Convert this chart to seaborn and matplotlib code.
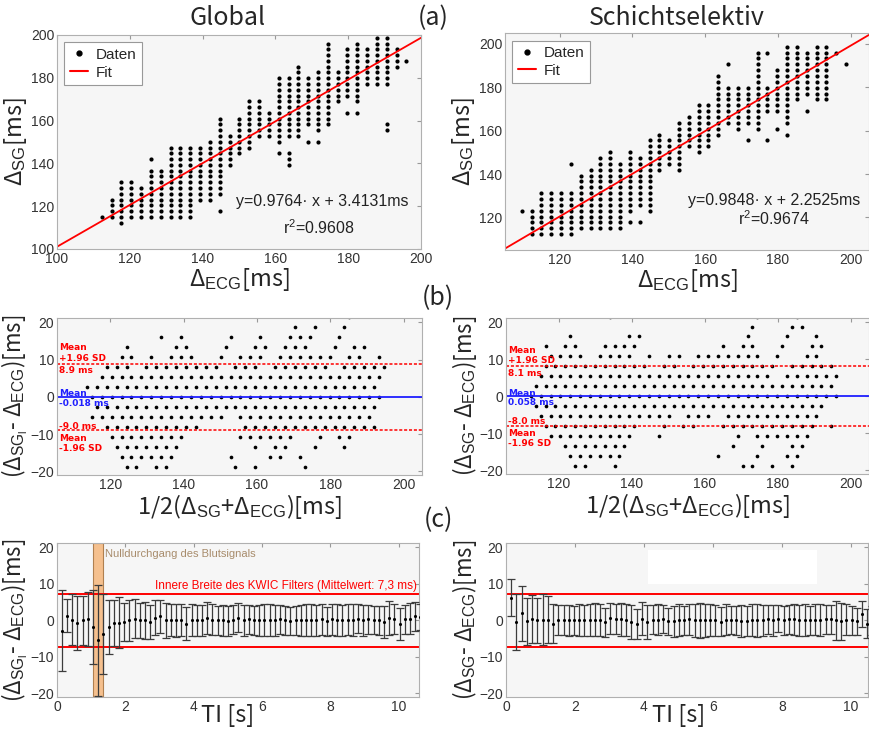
import matplotlib
matplotlib.use("Agg")
import matplotlib.pyplot as plt
from matplotlib.lines import Line2D
from matplotlib.patches import Rectangle
import numpy as np
import pandas as pd
import seaborn as sns

# delays are sampled on a grid: grid_t0 + grid_dt * index  [ms]
grid_t0 = 109.6
grid_dt = 2.7

# (a) Global: ECG column index -> runs (lo, hi) of SG indices, read column by column
glob_cols = [
    (1, [(2, 2)]), (2, [(2, 5)]), (3, [(1, 8)]), (4, [(2, 8)]), (5, [(2, 7)]),
    (6, [(2, 10), (12, 12)]), (7, [(2, 10)]), (8, [(2, 14)]), (9, [(2, 14)]),
    (10, [(2, 14)]), (11, [(5, 14)]), (12, [(5, 15)]), (13, [(3, 3), (6, 19)]),
    (14, [(11, 16)]), (15, [(13, 19)]), (16, [(14, 22)]), (17, [(16, 22)]),
    (18, [(16, 20)]), (19, [(13, 13), (15, 26)]), (20, [(11, 13), (16, 26)]),
    (21, [(16, 28)]), (22, [(15, 15), (18, 26)]), (23, [(15, 15), (17, 27)]),
    (24, [(18, 32)]), (25, [(22, 27)]), (26, [(20, 20), (23, 31)]),
    (27, [(20, 20), (22, 32)]), (28, [(25, 31)]), (29, [(25, 33)]),
    (30, [(17, 18), (25, 33)]), (31, [(28, 31)]), (32, [(29, 29)]),
]
# (a) Schichtselektiv
schi_cols = [
    (0, [(5, 5)]), (1, [(1, 5)]), (2, [(1, 8)]), (3, [(1, 8)]), (4, [(1, 8)]),
    (5, [(1, 8), (13, 13)]), (6, [(2, 11)]), (7, [(2, 12)]), (8, [(2, 14)]),
    (9, [(2, 15)]), (10, [(2, 13)]), (11, [(3, 3), (5, 15)]), (12, [(3, 3), (6, 14)]),
    (13, [(5, 17)]), (14, [(12, 18)]), (15, [(13, 17)]), (16, [(12, 20)]),
    (17, [(16, 21)]), (18, [(15, 23)]), (19, [(16, 23)]), (20, [(18, 28)]),
    (21, [(20, 26), (30, 30)]), (22, [(19, 26)]), (23, [(17, 17), (20, 26)]),
    (24, [(19, 32)]), (25, [(17, 17), (22, 26), (32, 32)]), (26, [(19, 19), (22, 29)]),
    (27, [(18, 18), (20, 33)]), (28, [(24, 33)]), (29, [(22, 22), (25, 32)]),
    (30, [(24, 33)]), (31, [(24, 33)]), (32, [(32, 32)]), (33, [(30, 30)]),
]

glob_fit = (0.9764, 3.4131)
glob_r2 = 0.9608
schi_fit = (0.9848, 2.2525)
schi_r2 = 0.9674

# (b) Bland-Altman lines: mean, mean+1.96SD, mean-1.96SD
glob_ba = (-0.018, 8.9, -9.0)
schi_ba = (0.058, 8.1, -8.0)

# (c) difference vs inversion time
ti = [0.15, 0.30, 0.45, 0.60, 0.75, 0.91, 1.06, 1.21, 1.36, 1.51,
      1.67, 1.82, 1.97, 2.12, 2.27, 2.43, 2.58, 2.73, 2.88, 3.03,
      3.19, 3.34, 3.49, 3.64, 3.79, 3.95, 4.10, 4.25, 4.40, 4.55,
      4.71, 4.86, 5.01, 5.16, 5.31, 5.47, 5.62, 5.77, 5.92, 6.07,
      6.23, 6.38, 6.53, 6.68, 6.83, 6.99, 7.14, 7.29, 7.44, 7.59,
      7.75, 7.90, 8.05, 8.20, 8.35, 8.51, 8.66, 8.81, 8.96, 9.11,
      9.27, 9.42, 9.57, 9.72, 9.87, 10.03, 10.18, 10.33, 10.48, 10.63]
glob_mean = [-2.8, 1.3, 0.2, -0.8, 0.0, 0.5, -1.8, -5.5, -3.8, -1.8,
             -0.7, -0.6, -0.5, 0.0, 0.5, 0.0, 0.0, -0.4, 0.7, 1.1,
             0.0, 0.2, 0.0, 0.2, -0.9, 0.2, 0.0, 0.0, 0.6, 0.2,
             0.0, 0.0, -0.2, 0.2, 0.7, 0.0, 0.3, 0.0, 0.0, 0.2,
             0.0, 0.0, 0.3, 0.0, -0.2, 0.0, 0.0, 0.0, 0.2, 0.0,
             0.3, -0.3, 0.3, 0.0, 0.0, 0.2, 0.0, 0.5, 0.0, 0.3,
             0.0, 0.0, -0.5, 0.6, 0.4, -0.9, 0.3, 0.5, 1.1, 0.9]
glob_sd = [11.2, 4.6, 7.0, 7.4, 6.8, 7.4, 10.2, 15.2, 11.0, 7.3,
           6.2, 7.0, 5.2, 5.6, 5.4, 4.8, 5.0, 4.6, 4.8, 4.6,
           4.8, 4.4, 4.6, 4.4, 4.6, 4.4, 4.2, 4.2, 4.4, 4.2,
           4.0, 4.2, 4.2, 4.0, 4.0, 4.2, 4.0, 4.0, 4.2, 4.4,
           4.4, 4.2, 4.0, 4.0, 3.8, 4.0, 4.2, 4.4, 4.4, 4.2,
           4.2, 4.0, 4.2, 4.4, 4.2, 4.2, 4.4, 4.0, 4.2, 4.0,
           3.8, 4.0, 4.4, 4.6, 4.2, 4.4, 4.0, 4.2, 4.0, 3.6]
schi_mean = [6.2, -0.5, 1.9, -0.3, 0.4, 0.0, 0.2, 0.2, -0.9, 0.0,
             0.0, 0.0, 0.0, 0.2, 0.0, 0.0, 0.2, 0.0, -0.5, 0.6,
             0.4, 0.3, 0.0, -0.4, -1.0, 0.5, -0.5, 0.2, 0.2, 0.3,
             -0.3, -0.3, 0.0, 0.0, 0.3, 0.0, 0.0, 0.0, 0.2, 0.0,
             -0.4, 0.2, 0.0, 0.0, -0.2, -0.2, 0.0, 0.0, 0.0, 0.3,
             0.0, 0.5, 0.0, 0.3, 0.3, 0.0, 0.0, 0.0, 0.2, 0.0,
             0.3, 0.3, 0.0, -0.3, 0.2, 0.0, -0.3, 1.8, -0.9, 0.0]
schi_sd = [5.0, 7.7, 7.6, 6.4, 6.6, 6.2, 6.9, 6.4, 5.3, 4.1,
           4.1, 4.2, 4.0, 4.4, 4.2, 4.4, 4.6, 4.4, 4.0, 4.2,
           4.1, 4.5, 4.4, 4.6, 4.2, 4.4, 4.6, 4.0, 4.2, 3.8,
           3.8, 4.2, 4.4, 4.0, 4.2, 4.6, 4.8, 4.6, 4.4, 4.2,
           4.0, 4.2, 3.8, 4.0, 4.4, 4.2, 4.4, 4.6, 4.2, 4.0,
           4.2, 3.8, 4.0, 4.0, 4.2, 4.2, 4.4, 4.0, 4.2, 4.4,
           4.0, 4.0, 5.4, 5.0, 4.2, 4.0, 3.8, 3.5, 4.0, 4.0]
kwic_width = 7.3
null_crossing = (1.05, 1.36)

# ---- style ------------------------------------------------------------
sns.set_style("white")
plt.rcParams["font.family"] = ["Liberation Sans", "DejaVu Sans"]
plt.rcParams["mathtext.fontset"] = "custom"
plt.rcParams["mathtext.rm"] = "Liberation Sans"
plt.rcParams["mathtext.it"] = "Liberation Sans:italic"
plt.rcParams["mathtext.bf"] = "Liberation Sans:bold"
BIG = ["Noto Sans CJK JP", "DejaVu Sans"]
LBL = 17
BG = "#f6f6f6"


def to_frame(cols):
    ecg, sg = [], []
    for k, runs in cols:
        for lo, hi in runs:
            for m in range(lo, hi + 1):
                ecg.append(round(grid_t0 + grid_dt * k, 2))
                sg.append(round(grid_t0 + grid_dt * m, 2))
    df = pd.DataFrame({"ecg": ecg, "sg": sg})
    df["mean"] = (df["ecg"] + df["sg"]) / 2
    df["diff"] = df["sg"] - df["ecg"]
    return df


def frame_axes(ax):
    ax.set_facecolor(BG)
    for s in ax.spines.values():
        s.set_color("#b0b0b0")
        s.set_linewidth(0.8)
    ax.tick_params(direction="in", length=3, color="#999999", labelcolor="#333333",
                   labelsize=10, top=True, right=True, pad=2)


def scatter_panel(ax, df, fit, r2, lim, ticks, eq_xy, r2_xy):
    frame_axes(ax)
    sns.scatterplot(data=df, x="ecg", y="sg", ax=ax, color="k", s=9,
                    linewidth=0, legend=False)
    xs = np.array(lim, dtype=float)
    sns.lineplot(x=xs, y=fit[0] * xs + fit[1], ax=ax, color="red", lw=1.3)
    ax.set_xlim(lim)
    ax.set_ylim(lim)
    ax.set_xticks(ticks)
    ax.set_yticks(ticks)
    ax.set_xlabel("Δ$_{\\mathrm{ECG}}$[ms]", fontsize=LBL, family=BIG, labelpad=0)
    ax.set_ylabel("Δ$_{\\mathrm{SG}}$[ms]", fontsize=LBL, family=BIG, labelpad=1)
    handles = [Line2D([], [], marker="o", ls="", color="k", ms=3.5, label="Daten"),
               Line2D([], [], color="red", lw=1.5, label="Fit")]
    leg = ax.legend(handles=handles, loc="upper left", fancybox=False,
                    edgecolor="#999999", framealpha=1, fontsize=11,
                    handlelength=1.2, handletextpad=0.5, borderpad=0.35,
                    labelspacing=0.25, borderaxespad=0.0,
                    bbox_to_anchor=(0.02, 0.965))
    leg.get_frame().set_linewidth(0.8)
    ax.text(*eq_xy, f"y={fit[0]:.4f}· x + {fit[1]:.4f}ms", transform=ax.transAxes,
            ha="center", va="center", fontsize=11.5, color="#222222")
    ax.text(*r2_xy, f"r$^2$={r2:.4f}", transform=ax.transAxes,
            ha="center", va="center", fontsize=11.5, color="#222222")


def ba_panel(ax, df, stats, ylab, labels):
    frame_axes(ax)
    sns.scatterplot(data=df, x="mean", y="diff", ax=ax, color="k", s=7,
                    linewidth=0, legend=False)
    mean, up, lo = stats
    ax.axhline(up, color="red", ls=(0, (2, 1.2)), lw=1.1)
    ax.axhline(lo, color="red", ls=(0, (2, 1.2)), lw=1.1)
    ax.axhline(mean, color="#1f1fff", lw=1.3)
    ax.set_xlim(105.5, 205)
    ax.set_ylim(-21, 21.2)
    ax.set_xticks([120, 140, 160, 180, 200])
    ax.set_yticks([-20, -10, 0, 10, 20])
    ax.set_xlabel("1/2(Δ$_{\\mathrm{SG}}$+Δ$_{\\mathrm{ECG}}$)[ms]", fontsize=LBL,
                  family=BIG, labelpad=0.5)
    ax.set_ylabel(ylab, fontsize=LBL - 1, family=BIG, labelpad=0)
    for y, txt, col in labels:
        ax.text(106, y, txt, color=col, fontsize=6.5, fontweight="bold",
                family="DejaVu Sans", va="center", ha="left")


def ti_panel(ax, means, sds, xmax, ylab):
    frame_axes(ax)
    n = len(means)
    t = ti[:n]
    ax.errorbar(t, means, yerr=sds, fmt="none", ecolor="#3c3c3c", elinewidth=0.9,
                capsize=3.2, capthick=0.9, zorder=3)
    sns.scatterplot(x=t, y=means, ax=ax, color="k", s=5, linewidth=0, zorder=4)
    ax.axhline(kwic_width, color="red", lw=1.4, zorder=2)
    ax.axhline(-kwic_width, color="red", lw=1.4, zorder=2)
    ax.set_xlim(0, xmax)
    ax.set_ylim(-21, 21.2)
    ax.set_xticks([0, 2, 4, 6, 8, 10])
    ax.set_yticks([-20, -10, 0, 10, 20])
    ax.set_xlabel("TI [s]", fontsize=LBL, family=BIG)
    # the label sits between the 4 and 6 tick labels, as in the original
    ax.xaxis.set_label_coords(5.0 / xmax, -0.045)
    ax.xaxis.label.set_va("top")
    ax.set_ylabel(ylab, fontsize=LBL - 1, family=BIG, labelpad=0)


fig = plt.figure(figsize=(8.69, 7.33), dpi=100)


def add_ax(l, t, r, b):
    W, H = 869.0, 733.0
    return fig.add_axes([l / W, 1 - b / H, (r - l) / W, (b - t) / H])


glob_df = to_frame(glob_cols)
schi_df = to_frame(schi_cols)

ax1 = add_ax(57, 35, 421, 249)
scatter_panel(ax1, glob_df, glob_fit, glob_r2, (100, 200),
              [100, 120, 140, 160, 180, 200], (0.73, 0.22), (0.72, 0.10))
ax2 = add_ax(505, 33, 869, 250)
scatter_panel(ax2, schi_df, schi_fit, schi_r2, (105, 205),
              [120, 140, 160, 180, 200], (0.74, 0.23), (0.74, 0.145))

lab_g = "(Δ$_{\\mathrm{SG}_\\mathrm{l}}$- Δ$_{\\mathrm{ECG}}$)[ms]"
lab_s = "(Δ$_{\\mathrm{SG}}$- Δ$_{\\mathrm{ECG}}$)[ms]"

ax3 = add_ax(57, 318, 422, 475)
ba_panel(ax3, glob_df, glob_ba, lab_g, [
    (13.2, "Mean", "red"), (10.3, "+1.96 SD", "red"), (7.1, f"{glob_ba[1]:.1f} ms", "red"),
    (0.9, "Mean", "#1f1fff"), (-1.7, f"{glob_ba[0]:.3f} ms", "#1f1fff"),
    (-7.9, f"{glob_ba[2]:.1f} ms", "red"), (-11.1, "Mean", "red"), (-13.8, "-1.96 SD", "red")])
ax4 = add_ax(506, 318, 869, 474)
ba_panel(ax4, schi_df, schi_ba, lab_s, [
    (12.4, "Mean", "red"), (9.6, "+1.96 SD", "red"), (6.3, f"{schi_ba[1]:.1f} ms", "red"),
    (0.9, "Mean", "#1f1fff"), (-1.7, f"{schi_ba[0]:.3f} ms", "#1f1fff"),
    (-6.8, f"{schi_ba[2]:.1f} ms", "red"), (-10.0, "Mean", "red"), (-12.7, "-1.96 SD", "red")])

ax5 = add_ax(57, 543, 419, 697)
ax5.axvspan(*null_crossing, facecolor="#f5c08e", edgecolor="#b08050", lw=0.8, zorder=1)
ti_panel(ax5, glob_mean, glob_sd, 10.6, lab_g)
ax5.text(1.40, 18.3, "Nulldurchgang des Blutsignals", color="#a88c6c", fontsize=8,
         va="center", ha="left")
ax5.text(10.55, 9.5, f"Innere Breite des KWIC Filters (Mittelwert: {kwic_width:.1f} ms)".replace(".", ","),
         color="red", fontsize=8.5, va="center", ha="right")

ax6 = add_ax(506, 543, 868, 697)
ax6.add_patch(Rectangle((4.12, 10.1), 4.9, 9.3, facecolor="white", edgecolor="none", zorder=1))
ti_panel(ax6, schi_mean, schi_sd, 10.5, lab_s)

fig.text(228 / 869, 1 - 18 / 733, "Global", fontsize=18, family=BIG, ha="center", va="center")
fig.text(677 / 869, 1 - 18 / 733, "Schichtselektiv", fontsize=18, family=BIG, ha="center", va="center")
fig.text(433 / 869, 1 - 18 / 733, "(a)", fontsize=18, family=BIG, ha="center", va="center")
fig.text(438 / 869, 1 - 298 / 733, "(b)", fontsize=18, family=BIG, ha="center", va="center")
fig.text(438 / 869, 1 - 520 / 733, "(c)", fontsize=18, family=BIG, ha="center", va="center")

fig.savefig("out.png", dpi=100)
